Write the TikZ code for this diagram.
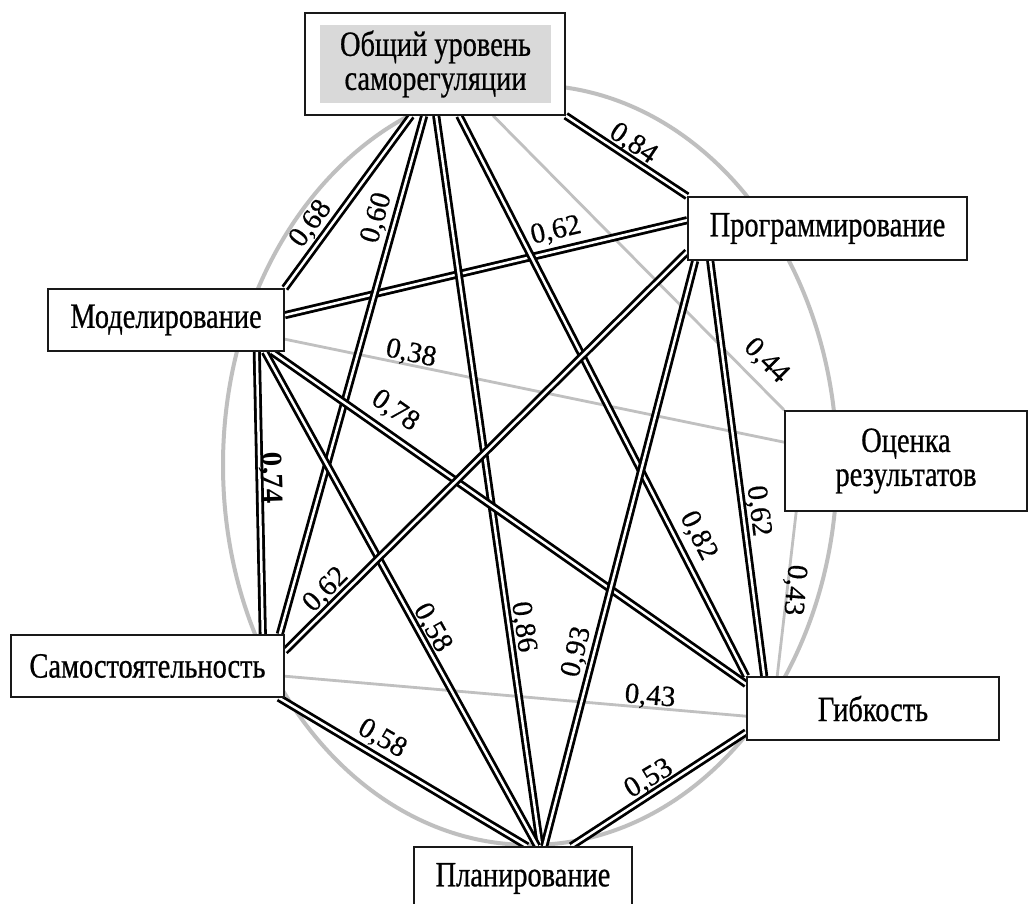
\documentclass[tikz,border=0pt]{standalone}
\usepackage{fontspec}
\setmainfont{Liberation Serif}
\newfontfamily\nodefont[FakeStretch=0.80,FakeBold=0.6]{Liberation Serif}
\newfontfamily\valfont[FakeBold=0.5]{Liberation Serif}
\usetikzlibrary{calc}
\definecolor{ellc}{RGB}{191,191,191}
\definecolor{weakc}{RGB}{192,192,192}
\definecolor{innerc}{RGB}{217,217,217}
\definecolor{borderc}{RGB}{25,25,25}
\begin{document}
\begin{tikzpicture}[x=1pt,y=-1pt,
  box/.style={draw=borderc, line width=1.6pt, fill=white, inner sep=0pt,
    font=\nodefont\fontsize{35.5}{34}\selectfont, align=center},
  strong/.style={draw=black, line width=2.8pt, double=white, double distance=2.5pt},
  weak/.style={draw=weakc, line width=2.8pt},
  val/.style={font=\valfont\fontsize{29}{29}\selectfont, inner sep=0pt}]
\useasboundingbox (0,0) rectangle (1029,904);
\fill[white] (0,0) rectangle (1029,904);

% gray ellipse
\draw[draw=ellc, line width=4pt] (530,465) ellipse [x radius=307pt, y radius=380pt];

% node boxes (geometry only, drawn first to get anchors)
\path (435,64) node[box, minimum width=260pt, minimum height=102pt] (obs) {};
\path (827.5,228.5) node[box, minimum width=279pt, minimum height=63pt] (prog) {};
\path (166,320) node[box, minimum width=236pt, minimum height=62pt] (model) {};
\path (906,461) node[box, minimum width=242pt, minimum height=100pt] (ocen) {};
\path (147.5,666) node[box, minimum width=273pt, minimum height=62pt] (samo) {};
\path (873,708.5) node[box, minimum width=252pt, minimum height=63pt] (gib) {};
\path (523,878.5) node[box, minimum width=218pt, minimum height=63pt] (plan) {};

% weak (gray) connectors
\draw[weak] ($(obs.south west)+(189,0)$) -- (ocen.north west);
\draw[weak] ($(model.north east)+(0,51)$) -- ($(ocen.north west)+(0,32)$);
\draw[weak] ($(ocen.south west)+(12,0)$) -- ($(gib.north west)+(31,0)$);
\draw[weak] ($(samo.north east)+(0,42)$) -- ($(gib.north west)+(0,40)$);

% strong (double) connectors
\draw[strong] (obs.south east) -- (prog.north west);
\draw[strong] ($(model.north east)+(0,27)$) -- ($(prog.north west)+(0,24)$);
\draw[strong] ($(obs.south west)+(107,0)$) -- (model.north east);
\draw[strong] ($(obs.south west)+(120,0)$) -- ($(samo.north east)+(-5,0)$);
\draw[strong] ($(obs.south west)+(132,0)$) -- ($(plan.north west)+(127,0)$);
\draw[strong] ($(obs.south west)+(155,0)$) -- (gib.north west);
\draw[strong] ($(model.south east)+(-28,0)$) -- ($(samo.north east)+(-22,0)$);
\draw[strong] ($(model.south east)+(-20,0)$) -- ($(plan.north west)+(124,0)$);
\draw[strong] ($(model.south east)+(-13,0)$) -- ($(gib.north west)+(0,8)$);
\draw[strong] ($(prog.south west)+(0,-9)$) -- ($(samo.north east)+(0,17)$);
\draw[strong] ($(prog.south west)+(8,0)$) -- ($(plan.north west)+(131,0)$);
\draw[strong] ($(prog.south west)+(23,0)$) -- ($(gib.north west)+(18,0)$);
\draw[strong] ($(samo.south east)+(-6,0)$) -- ($(plan.north west)+(114,0)$);
\draw[strong] ($(gib.north west)+(0,56)$) -- ($(plan.north west)+(158,0)$);

% boxes on top
\path (435,64) node[box, minimum width=260pt, minimum height=102pt] (obsbox) {};
\path (435.5,64) node[fill=innerc, inner sep=0pt, minimum width=231pt, minimum height=78pt,
  font=\nodefont\fontsize{35.5}{34}\selectfont, align=center] (obsin) {Общий уровень\\саморегуляции};
\path (827.5,228.5) node[box, minimum width=279pt, minimum height=63pt] (progbox) {Программирование};
\path (166,320) node[box, minimum width=236pt, minimum height=62pt] (modelbox) {Моделирование};
\path (906,461) node[box, minimum width=242pt, minimum height=100pt] (ocenbox) {Оценка\\результатов};
\path (147.5,666) node[box, minimum width=273pt, minimum height=62pt] (samobox) {Самостоятельность};
\path (873,708.5) node[box, minimum width=252pt, minimum height=63pt] (gibbox) {Гибкость};
\path (523,878.5) node[box, minimum width=218pt, minimum height=63pt] (planbox) {Планирование};

% value labels
\node[val, rotate=-34] (l84) at (633,144) {0,84};
\node[val, rotate=13] (l62a) at (556,231) {0,62};
\node[val, rotate=53] (l68) at (311,224) {0,68};
\node[val, rotate=74] (l60) at (377,218) {0,60};
\node[val, rotate=-45] (l44) at (766,361) {0,44};
\node[val, rotate=-12] (l38) at (411,354) {0,38};
\node[val, rotate=-35] (l78) at (395,411) {0,78};
\node[val, rotate=-88, font=\bfseries\fontsize{29}{29}\selectfont] (l74) at (271,478) {0,74};
\node[val, rotate=45] (l62b) at (326,590) {0,62};
\node[val, rotate=-61] (l58a) at (432,628) {0,58};
\node[val, rotate=-82] (l86) at (523,627) {0,86};
\node[val, rotate=-63] (l82) at (698,536) {0,82};
\node[val, rotate=-83] (l62c) at (758,511) {0,62};
\node[val, rotate=-95] (l43a) at (794,590) {0,43};
\node[val, rotate=76] (l93) at (577,652) {0,93};
\node[val, rotate=-5] (l43b) at (650,697) {0,43};
\node[val, rotate=-30] (l58b) at (382,739) {0,58};
\node[val, rotate=31] (l53) at (649,779) {0,53};
\end{tikzpicture}
\end{document}
